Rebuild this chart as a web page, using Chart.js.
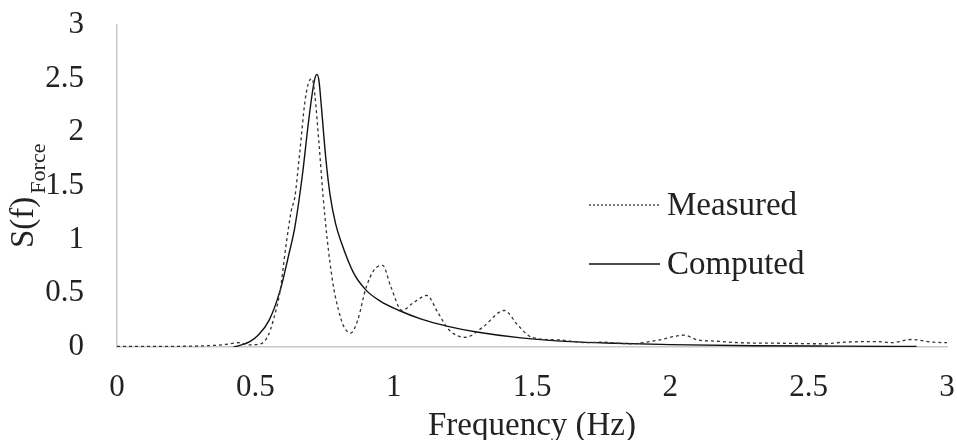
<!DOCTYPE html>
<html>
<head>
<meta charset="utf-8">
<script src="https://cdn.jsdelivr.net/npm/chart.js@4"></script>
<style>
html,body{margin:0;padding:0;background:#fff;}
#wrap{width:957px;height:440px;position:relative;}
</style>
</head>
<body>
<div id="wrap"><canvas id="c" width="957" height="440"></canvas></div>
<script>
// Data
const measuredFreq = [0.00,0.10,0.20,0.30,0.38,0.44,0.48,0.52,0.545,0.565,0.59,0.61,0.63,0.643,0.66,0.68,0.695,0.705,0.715,0.73,0.745,0.76,0.78,0.80,0.82,0.845,0.87,0.90,0.93,0.96,0.99,1.03,1.07,1.12,1.16,1.20,1.26,1.32,1.40,1.45,1.50,1.60,1.70,1.75,1.85,1.95,2.05,2.10,2.16,2.25,2.40,2.55,2.63,2.75,2.80,2.87,2.95,3.00];
const measuredVal  = [0.005,0.005,0.006,0.01,0.02,0.04,0.02,0.03,0.10,0.25,0.53,0.93,1.27,1.40,1.80,2.30,2.48,2.50,2.35,1.90,1.40,1.00,0.60,0.35,0.19,0.13,0.25,0.55,0.72,0.76,0.56,0.34,0.41,0.48,0.32,0.16,0.09,0.18,0.34,0.20,0.09,0.065,0.04,0.045,0.03,0.06,0.11,0.065,0.055,0.04,0.035,0.03,0.045,0.05,0.04,0.07,0.045,0.04];
const computedFreq = [0.42,0.45,0.48,0.51,0.55,0.59,0.62,0.643,0.67,0.69,0.705,0.715,0.723,0.73,0.74,0.755,0.77,0.79,0.81,0.855,0.90,0.95,1.02,1.10,1.20,1.30,1.46,1.64,1.80,2.00,2.30,2.60,2.89];
const computedVal  = [0.00,0.02,0.05,0.11,0.25,0.53,0.85,1.12,1.60,2.05,2.35,2.50,2.54,2.48,2.20,1.75,1.42,1.15,0.98,0.69,0.53,0.43,0.34,0.26,0.19,0.14,0.085,0.05,0.035,0.022,0.012,0.008,0.005];
const xTicks = [0,0.5,1,1.5,2,2.5,3];
const yTicks = [0,0.5,1,1.5,2,2.5,3];
const seriesNames = ['Measured','Computed'];
const xTitle = 'Frequency (Hz)';
const yTitleMain = 'S(f)';
const yTitleSub = 'Force';

const FONT = "'Liberation Serif','Times New Roman',serif";

const toPts = (xs, ys) => xs.map((x, i) => ({x: x, y: ys[i]}));

const overlayPlugin = {
  id: 'overlay',
  afterDraw(chart) {
    const ctx = chart.ctx;
    const ca = chart.chartArea;
    ctx.save();
    ctx.fillStyle = '#222';
    // x title
    ctx.font = '33px ' + FONT;
    ctx.textAlign = 'center';
    ctx.textBaseline = 'middle';
    ctx.fillText(xTitle, (ca.left + ca.right) / 2, 426);
    // y title rotated with subscript
    ctx.save();
    ctx.translate(24, 248);
    ctx.rotate(-Math.PI / 2);
    ctx.textAlign = 'left';
    ctx.textBaseline = 'middle';
    ctx.font = '33px ' + FONT;
    ctx.fillText(yTitleMain, 0, 0);
    const w = ctx.measureText(yTitleMain).width;
    ctx.font = '22px ' + FONT;
    ctx.fillText(yTitleSub, w + 3, 15);
    ctx.restore();
    // legend
    const items = chart.data.datasets;
    const ys = [205, 264];
    items.forEach((ds, i) => {
      const y = ys[i];
      ctx.beginPath();
      ctx.setLineDash(i === 0 ? [2, 2] : []);
      ctx.lineWidth = 1.3;
      ctx.strokeStyle = ds.borderColor;
      ctx.moveTo(589, y);
      ctx.lineTo(660, y);
      ctx.stroke();
      ctx.setLineDash([]);
      ctx.font = '33px ' + FONT;
      ctx.textAlign = 'left';
      ctx.textBaseline = 'middle';
      ctx.fillStyle = '#222';
      ctx.fillText(ds.label, 667, y + 1);
    });
    ctx.restore();
  }
};

new Chart(document.getElementById('c'), {
  type: 'line',
  data: {
    datasets: [
      {
        label: seriesNames[0],
        data: toPts(measuredFreq, measuredVal),
        borderColor: '#333333',
        borderWidth: 1.3,
        borderDash: [3, 3],
        pointRadius: 0,
        cubicInterpolationMode: 'monotone',
        fill: false
      },
      {
        label: seriesNames[1],
        data: toPts(computedFreq, computedVal),
        borderColor: '#111111',
        borderWidth: 1.4,
        pointRadius: 0,
        cubicInterpolationMode: 'monotone',
        fill: false
      }
    ]
  },
  options: {
    responsive: false,
    animation: false,
    events: [],
    layout: { padding: { left: 0, right: 10, top: 25, bottom: 0 } },
    plugins: { legend: { display: false }, tooltip: { enabled: false } },
    scales: {
      x: {
        type: 'linear',
        min: 0, max: 3,
        afterBuildTicks(scale) { scale.ticks = xTicks.map(v => ({value: v})); },
        afterFit(scale) { scale.height = 440 - 347; scale.paddingLeft = 0; scale.paddingRight = 0; },
        grid: { display: false, drawTicks: false },
        border: { display: true, color: '#c8c8c8', width: 1.5 },
        ticks: {
          color: '#222',
          font: { family: FONT, size: 31 },
          padding: 22,
          maxRotation: 0,
          autoSkip: false,
          callback: v => String(v)
        }
      },
      y: {
        type: 'linear',
        min: 0, max: 3,
        afterBuildTicks(scale) { scale.ticks = yTicks.map(v => ({value: v})); },
        afterFit(scale) { scale.width = 117; scale.paddingTop = 0; scale.paddingBottom = 0; },
        grid: { display: false, drawTicks: false },
        border: { display: true, color: '#c8c8c8', width: 1.5 },
        ticks: {
          color: '#222',
          font: { family: FONT, size: 31 },
          padding: 33,
          autoSkip: false,
          callback: v => String(v)
        }
      }
    }
  },
  plugins: [overlayPlugin]
});
</script>
</body>
</html>
